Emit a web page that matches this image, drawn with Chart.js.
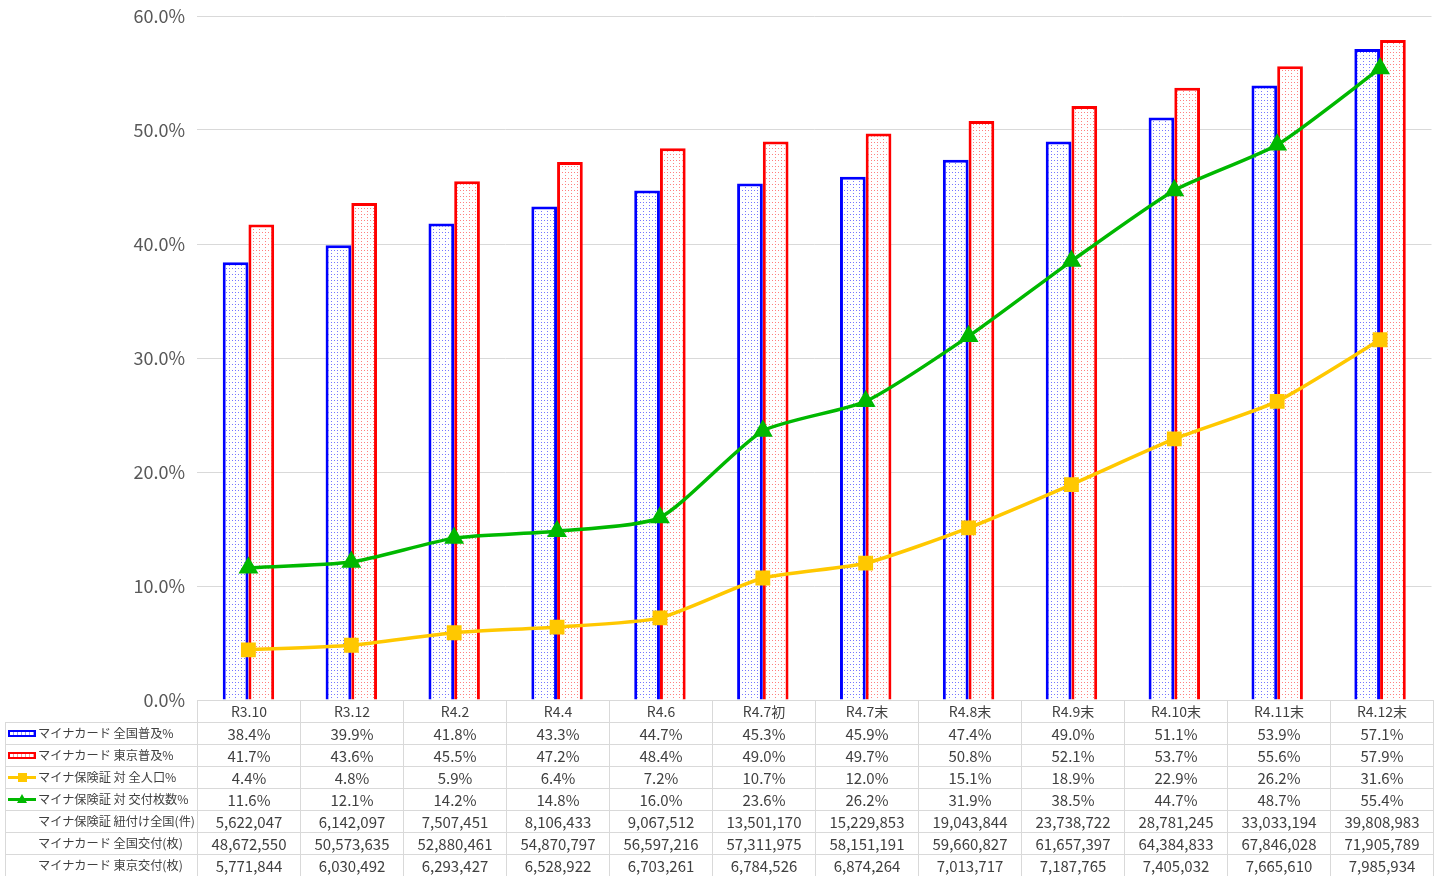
<!DOCTYPE html>
<html><head><meta charset="utf-8">
<script src="https://cdn.jsdelivr.net/npm/chart.js@4.4.1/dist/chart.umd.min.js"></script>
<style>
html,body{margin:0;padding:0;background:#fff;}
#wrap{position:relative;width:1443px;height:876px;overflow:hidden;}
#c{position:absolute;left:0;top:0;}
#tbl{position:absolute;left:5px;top:700px;width:1428px;border-collapse:collapse;table-layout:fixed;font-family:"Noto Sans CJK JP","Noto Sans",sans-serif;font-size:15px;color:#404040;}
#tbl td{border:1px solid #d9d9d9;height:21px;padding:0;text-align:center;white-space:nowrap;overflow:hidden;line-height:21px;}
#tbl td.lab{text-align:left;padding-left:2px;font-size:12.2px;}
#tbl td.lab2{padding-left:32px;}
#tbl td.blank{border:none;border-bottom:1px solid #d9d9d9;}
.g{display:inline-block;vertical-align:middle;width:28px;height:9px;position:relative;margin-right:2px;top:-1px;}
.gb{box-sizing:border-box;height:7px;}
.ln{position:absolute;left:0;right:0;top:3px;height:3px;}
.sq{position:absolute;left:10px;top:0;width:9px;height:9px;}
.tri{position:absolute;left:9px;top:-1px;width:0;height:0;border-left:5px solid transparent;border-right:5px solid transparent;border-bottom:9px solid #00b800;}
</style></head>
<body><div id="wrap"><canvas id="c" width="1443" height="876"></canvas><table id="tbl"></table></div>
<script>
const categories=["R3.10","R3.12","R4.2","R4.4","R4.6","R4.7初","R4.7末","R4.8末","R4.9末","R4.10末","R4.11末","R4.12末"];
const seriesNames=["マイナカード 全国普及%","マイナカード 東京普及%","マイナ保険証 対 全人口%","マイナ保険証 対 交付枚数%"];
const zenkokuFukyu=[38.4,39.9,41.8,43.3,44.7,45.3,45.9,47.4,49.0,51.1,53.9,57.1];
const tokyoFukyu=[41.7,43.6,45.5,47.2,48.4,49.0,49.7,50.8,52.1,53.7,55.6,57.9];
const hokenshoZenjinko=[4.4,4.8,5.9,6.4,7.2,10.7,12.0,15.1,18.9,22.9,26.2,31.6];
const hokenshoKofu=[11.6,12.1,14.2,14.8,16.0,23.6,26.2,31.9,38.5,44.7,48.7,55.4];
const extraRowNames=["マイナ保険証 紐付け全国(件)","マイナカード 全国交付(枚)","マイナカード 東京交付(枚)"];
const himozuke=["5,622,047","6,142,097","7,507,451","8,106,433","9,067,512","13,501,170","15,229,853","19,043,844","23,738,722","28,781,245","33,033,194","39,808,983"];
const zenkokuKofu=["48,672,550","50,573,635","52,880,461","54,870,797","56,597,216","57,311,975","58,151,191","59,660,827","61,657,397","64,384,833","67,846,028","71,905,789"];
const tokyoKofu=["5,771,844","6,030,492","6,293,427","6,528,922","6,703,261","6,784,526","6,874,264","7,013,717","7,187,765","7,405,032","7,665,610","7,985,934"];
const yTicks=[0,10,20,30,40,50,60];

function dotPattern(color){
  const p=document.createElement('canvas');p.width=6;p.height=6;
  const x=p.getContext('2d');x.fillStyle='#fff';x.fillRect(0,0,6,6);
  x.fillStyle=color;x.fillRect(1,1,1,1);x.fillRect(4,4,1,1);x.fillRect(1,4,1,1);
  return document.getElementById('c').getContext('2d').createPattern(p,'repeat');
}
const blueFill=dotPattern('rgba(60,60,255,0.7)');
const redFill=dotPattern('rgba(255,60,60,0.65)');

new Chart(document.getElementById('c'),{
  data:{labels:categories,datasets:[
    {type:'line',label:seriesNames[3],data:hokenshoKofu,borderColor:'#00b800',backgroundColor:'#00b800',borderWidth:3.5,pointStyle:'triangle',pointRadius:8,pointHoverRadius:8,tension:0.2,order:0},
    {type:'line',label:seriesNames[2],data:hokenshoZenjinko,borderColor:'#ffc800',backgroundColor:'#ffc800',borderWidth:3.5,pointStyle:'rect',pointRadius:8,pointHoverRadius:8,tension:0.2,order:0},
    {type:'bar',label:seriesNames[0],data:zenkokuFukyu,backgroundColor:blueFill,borderColor:'#0000ff',borderWidth:3,categoryPercentage:0.5,barPercentage:1.0,order:1},
    {type:'bar',label:seriesNames[1],data:tokyoFukyu,backgroundColor:redFill,borderColor:'#ff0000',borderWidth:3,categoryPercentage:0.5,barPercentage:1.0,order:1}
  ]},
  options:{responsive:false,animation:false,
    layout:{padding:{top:16,right:10,left:0,bottom:0}},
    plugins:{legend:{display:false},tooltip:{enabled:false}},
    scales:{
      x:{grid:{display:false},border:{display:true,color:'#d9d9d9'},ticks:{display:false},afterFit:s=>{s.height=176;s.paddingLeft=0;s.paddingRight=0;}},
      y:{min:0,max:60,afterFit:s=>{s.width=197;s.paddingTop=0;s.paddingBottom=0;},
        afterBuildTicks:s=>{s.ticks=yTicks.map(v=>({value:v}));},
        grid:{color:'#d9d9d9',drawTicks:false,lineWidth:1},border:{display:false},
        ticks:{padding:12,color:'#595959',font:{family:'"Noto Sans CJK JP","Noto Sans",sans-serif',size:18},callback:v=>v.toFixed(1)+'%'}}
    }
  }
});

// table
const tbl=document.getElementById('tbl');
let html='<colgroup><col style="width:192px">'+categories.map(()=>'<col style="width:103px">').join('')+'</colgroup>';
html+='<tr><td class="blank"></td>'+categories.map(c=>'<td style="font-size:14px">'+c+'</td>').join('')+'</tr>';
const glyphs=[
  '<span class="g gb" style="border:2px solid #0000ff;background:repeating-linear-gradient(90deg,#fff 0 3px,#9999ff 3px 4px);"></span>',
  '<span class="g gb" style="border:2px solid #ff0000;background:repeating-linear-gradient(90deg,#fff 0 3px,#ff9999 3px 4px);"></span>',
  '<span class="g"><span class="ln" style="background:#ffc800"></span><span class="sq" style="background:#ffc800"></span></span>',
  '<span class="g"><span class="ln" style="background:#00b800"></span><span class="tri"></span></span>'
];
const pctRows=[zenkokuFukyu,tokyoFukyu,hokenshoZenjinko,hokenshoKofu];
pctRows.forEach((r,i)=>{html+='<tr><td class="lab">'+glyphs[i]+seriesNames[i]+'</td>'+r.map(v=>'<td>'+v.toFixed(1)+'%</td>').join('')+'</tr>';});
[himozuke,zenkokuKofu,tokyoKofu].forEach((r,i)=>{html+='<tr><td class="lab lab2">'+extraRowNames[i]+'</td>'+r.map(v=>'<td>'+v+'</td>').join('')+'</tr>';});
tbl.innerHTML=html;
</script></body></html>
